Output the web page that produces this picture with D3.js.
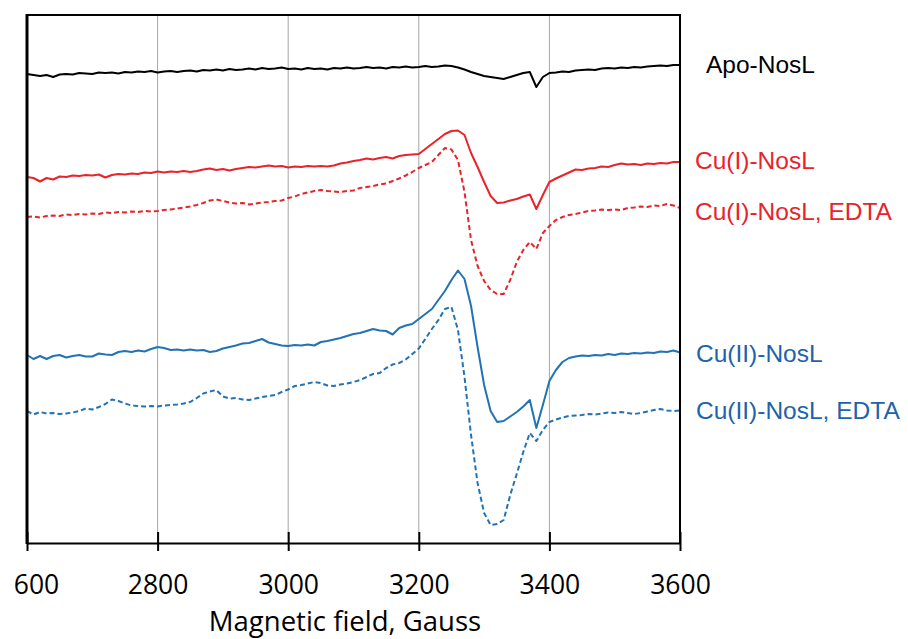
<!DOCTYPE html>
<html><head><meta charset="utf-8">
<script src="https://cdn.jsdelivr.net/npm/d3@7"></script>
<style>html,body{margin:0;padding:0;background:#fff;} svg{display:block}</style>
</head><body><svg id="chart" width="908" height="639"></svg>
<script>
// Magnetic field sampling (Gauss)
const fields = d3.range(2600, 3601, 10);

// EPR signal (arbitrary units, stacked offsets), one value per field point
const apoNosL = [
 471, 470, 469, 470, 468, 470.5, 471, 470.5, 472, 471.5,
 471, 472.5, 472, 472.5, 471.5, 473, 472.5, 473.5, 473, 474,
 472.5, 473.5, 474, 473, 474, 474.5, 473.5, 475, 474.5, 475.5,
 474.5, 476, 475, 475.5, 476.5, 475.5, 477, 476, 476.5, 477.5,
 476, 476.5, 475.5, 477, 476, 476.5, 475.5, 477, 476.5, 477.5,
 476.5, 477, 478, 477, 477.5, 476.5, 478, 477.5, 478.5, 477.5,
 478, 479, 478, 478.5, 479.5, 479, 477.5, 475.5, 473, 471,
 469, 468, 467, 466, 468, 470, 472, 473, 458, 468,
 472, 472.5, 473.5, 473, 474.5, 475, 475.5, 475, 476.5, 477,
 476.5, 477.5, 477, 478, 477.5, 478.5, 479, 479.5, 479, 480,
 480];

const cuINosL = [
 368, 367, 363.5, 367, 365.5, 368.5, 368, 369.5, 369, 370,
 369.5, 370.5, 367.5, 370, 371, 370.5, 371.5, 371, 372.5, 372,
 373.5, 372.5, 373.5, 373, 374, 373, 374, 375.5, 376.5, 375,
 376, 374.5, 376, 377, 378, 377.5, 378.5, 379.5, 378.5, 379,
 377.5, 378.5, 378, 379, 378.5, 379, 378.5, 379.5, 381.5, 382.5,
 384, 385, 386.5, 385.5, 387, 388, 386.5, 389, 390, 390.5,
 391, 396, 401, 406, 411, 414, 414.5, 410, 392, 378,
 363, 349, 342, 342.5, 344.5, 346, 348.5, 350.5, 336, 350,
 363, 366.5, 369.5, 372.5, 375.5, 375, 376.5, 377, 378.5, 378,
 380, 381.5, 380.5, 381, 380, 381.5, 381, 382, 381.5, 383,
 383];

const cuINosLEDTA = [
 328, 328.5, 327.5, 329, 329.5, 329, 330.5, 330, 331, 330.5,
 331.5, 331, 332.5, 332, 333, 332.5, 333.5, 333, 334, 333.5,
 334, 335, 335.5, 336.5, 337.5, 338.5, 340, 342, 344.5, 345.5,
 344, 342.5, 341.5, 342, 340.5, 341.5, 342.5, 343, 344, 344.5,
 347, 348.5, 351, 352.5, 354, 355, 354, 353.5, 353, 354,
 354.5, 357, 358, 359, 360.5, 361.5, 364, 366.5, 369.5, 373,
 377, 380, 383, 390, 397, 395.5, 385, 353, 305, 279,
 264, 255, 251, 251, 265, 283, 295, 303, 296, 312,
 319, 325, 328, 330, 331, 332.5, 334, 334.5, 335.5, 335,
 335.5, 335, 337, 337.5, 338.5, 338, 339.5, 339, 341, 339.5,
 337];

const cuIINosL = [
 190, 186, 189, 186, 189, 190, 187.5, 189, 190, 188.5,
 188.5, 191.5, 190.5, 190, 193, 194, 193, 194.5, 193.5, 196,
 198, 197, 195, 195.5, 194.5, 195.5, 194.5, 195, 193, 194,
 196.5, 198, 199.5, 201.5, 202, 204, 206, 202.5, 201, 199.5,
 199, 200, 199.5, 200.5, 199.5, 203, 204, 205.5, 207, 209,
 211, 212, 214, 216, 214.5, 214, 210.5, 217, 219.5, 221,
 226, 231, 236, 245, 254, 265, 274.5, 266, 239, 198,
 160, 134, 123, 124, 128.5, 133, 138.5, 145, 117, 140,
 164, 175, 183, 187, 188.5, 189.5, 189, 190, 189.5, 191,
 190, 191.5, 191, 192, 191.5, 192.5, 192, 193.5, 193, 194.5,
 192.5];

const cuIINosLEDTA = [
 134, 130.5, 133, 131.5, 132, 131, 131.5, 132.5, 134, 136.5,
 135.5, 138, 141, 145.5, 144, 141.5, 139.5, 139, 138.5, 139,
 138.5, 139.5, 140, 140.5, 141.5, 143, 147, 151.5, 153.5, 155,
 148.5, 146.5, 147, 145.5, 145, 146.5, 148, 149, 150, 153,
 155.5, 159, 160, 161.5, 163, 162, 159.5, 159, 160.5, 161.5,
 163, 165, 168, 171, 172, 177, 180.5, 182, 185.5, 191,
 196.5, 206, 216, 225, 236, 238, 215, 168, 110, 62,
 32, 20, 21, 25, 50, 71, 93, 112, 104, 115,
 123, 125.5, 127.5, 129, 129.5, 130, 131, 130.5, 131.5, 132.5,
 132, 133, 132, 131, 132, 133.5, 135, 136, 134.5, 134,
 134.5];

const seriesNames = ["Apo-NosL", "Cu(I)-NosL", "Cu(I)-NosL, EDTA", "Cu(II)-NosL", "Cu(II)-NosL, EDTA"];
const tickValues = [2600, 2800, 3000, 3200, 3400, 3600];
// first label appears cropped to "600" in the source figure
const tickLabels = ["600", "2800", "3000", "3200", "3400", "3600"];
const gridValues = [2800, 3000, 3200, 3400];
const axisTitle = "Magnetic field, Gauss";

// ---- drawing ----
(function () {
const svg = d3.select("#chart");
const pL = 27, pR = 680, pT = 15, axisY = 543;
const x = d3.scaleLinear().domain([2600, 3600]).range([pL, pR]);
const y = d3.scaleLinear().domain([0, 530]).range([545, 15]);

const RED = "#e8232a", BLUE = "#2272b6", BLUE_TXT = "#1d62aa";
const series = [
  {name: seriesNames[0], values: apoNosL,      color: "#000000", dash: null,  tc: "#000000", lx: 706, ly: 73},
  {name: seriesNames[1], values: cuINosL,      color: RED,       dash: null,  tc: RED,       lx: 695, ly: 169},
  {name: seriesNames[2], values: cuINosLEDTA,  color: RED,       dash: "5,3", tc: RED,       lx: 695, ly: 220},
  {name: seriesNames[3], values: cuIINosL,     color: BLUE,      dash: null,  tc: BLUE_TXT,  lx: 696, ly: 362},
  {name: seriesNames[4], values: cuIINosLEDTA, color: BLUE,      dash: "5,3", tc: BLUE_TXT,  lx: 696, ly: 419}
];

// gridlines
svg.append("g").selectAll("line").data(gridValues).join("line")
  .attr("x1", d => x(d)).attr("x2", d => x(d))
  .attr("y1", pT).attr("y2", axisY)
  .attr("stroke", "#a6a6a6").attr("stroke-width", 1);

// curves
const line = d3.line().x((d, i) => x(fields[i])).y(d => y(d));
svg.append("g").selectAll("path").data(series).join("path")
  .attr("d", d => line(d.values))
  .attr("fill", "none")
  .attr("stroke", d => d.color)
  .attr("stroke-width", 2)
  .attr("stroke-linejoin", "round")
  .attr("stroke-dasharray", d => d.dash);

// frame
svg.append("line").attr("x1", pL - 1).attr("x2", pR + 1).attr("y1", pT).attr("y2", pT)
  .attr("stroke", "#000").attr("stroke-width", 2);
svg.append("line").attr("x1", pL).attr("x2", pL).attr("y1", pT - 1).attr("y2", axisY + 1)
  .attr("stroke", "#000").attr("stroke-width", 3);
svg.append("line").attr("x1", pR).attr("x2", pR).attr("y1", pT - 1).attr("y2", axisY)
  .attr("stroke", "#000").attr("stroke-width", 2);

// x axis
const ax = svg.append("g").attr("transform", `translate(0,${axisY})`)
  .call(d3.axisBottom(x).tickValues(tickValues).tickFormat((d, i) => tickLabels[i]).tickSize(8).tickSizeOuter(0));
ax.select(".domain").attr("stroke", "#000").attr("stroke-width", 2);
ax.selectAll(".tick line").attr("y1", -11).attr("y2", 8).attr("stroke", "#000").attr("stroke-width", 2);
ax.selectAll(".tick text").attr("y", 51).attr("dy", null)
  .attr("font-family", "'Open Sans', sans-serif").attr("font-size", "26.5px").attr("fill", "#000")
  .attr("dx", (d, i) => i === 0 ? 9 : 0);

svg.append("text").attr("x", 345).attr("y", 631).attr("text-anchor", "middle")
  .attr("font-family", "'Open Sans', sans-serif").attr("font-size", "27.5px").attr("fill", "#000")
  .text(axisTitle);

// series labels
svg.append("g").selectAll("text").data(series).join("text")
  .attr("x", d => d.lx).attr("y", d => d.ly)
  .attr("font-family", "'Liberation Sans', Arial, sans-serif").attr("font-size", "24.5px")
  .attr("fill", d => d.tc)
  .text(d => d.name);
})();
</script></body></html>
